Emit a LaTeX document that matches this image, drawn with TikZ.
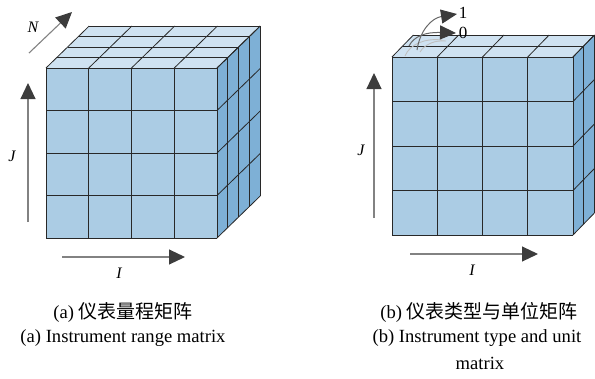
\documentclass[tikz,border=0pt]{standalone}
\usepackage{fontspec}
\setmainfont{Liberation Serif}
\newfontfamily\cjk{Noto Sans CJK SC}
\usetikzlibrary{arrows.meta}
\definecolor{topc}{RGB}{207,226,241}
\definecolor{sidec}{RGB}{126,176,214}
\definecolor{frontc}{RGB}{171,204,228}
\definecolor{gridc}{RGB}{40,40,40}
\definecolor{arrc}{RGB}{130,130,130}
\definecolor{headc}{RGB}{60,60,60}
\tikzset{
  gl/.style={draw=gridc, line width=0.8pt},
  axisarrow/.style={draw=arrc, line width=1.1pt, -{Triangle[length=16pt,width=15pt,fill=headc,color=headc]}},
  curvearrow/.style={draw=arrc!80!black, line width=1pt, -{Triangle[length=16pt,width=14pt,fill=headc,color=headc]}},
  faint/.style={draw=black!25, line width=0.9pt},
  axlabel/.style={font=\fontsize{16}{18}\selectfont\itshape, inner sep=0pt},
  numlabel/.style={font=\fontsize{17}{19}\selectfont, inner sep=0pt},
  captext/.style={font=\fontsize{18.6}{22}\selectfont, inner sep=0pt, align=center},
}
\newcommand\mycube[7]{%
\begin{scope}[shift={(#1,#2)}]
\def\W{#3}\def\H{#4}\def\DX{#5}\def\DY{#6}\def\N{#7}
\fill[topc] (0,0) -- (4*\W,0) -- (4*\W+\N*\DX,\N*\DY) -- (\N*\DX,\N*\DY) -- cycle;
\fill[sidec] (4*\W,0) -- (4*\W,4*\H) -- (4*\W+\N*\DX,4*\H+\N*\DY) -- (4*\W+\N*\DX,\N*\DY) -- cycle;
\fill[frontc] (0,0) rectangle (4*\W,4*\H);
\foreach \k in {0,...,\N} {
  \draw[gl] (\k*\DX,\k*\DY) -- (4*\W+\k*\DX,\k*\DY);
  \draw[gl] (4*\W+\k*\DX,\k*\DY) -- (4*\W+\k*\DX,4*\H+\k*\DY);
}
\foreach \i in {0,...,4} {
  \draw[gl] (\i*\W,0) -- (\i*\W+\N*\DX,\N*\DY);
  \draw[gl] (4*\W,\i*\H) -- (4*\W+\N*\DX,\i*\H+\N*\DY);
  \draw[gl] (\i*\W,0) -- (\i*\W,4*\H);
  \draw[gl] (0,\i*\H) -- (4*\W,\i*\H);
}
\end{scope}}
\begin{document}
\begin{tikzpicture}[x=1pt,y=-1pt]
\useasboundingbox (0,0) rectangle (595,378);
% cubes
\mycube{46}{68}{42.75}{42.5}{10.8}{-10.5}{4}
\mycube{392}{57}{45.25}{44.5}{10.7}{-11}{2}
% left axes
\coordinate (nS) at (29,53); \coordinate (nE) at (72,12);
\coordinate (jS) at (28,222); \coordinate (jE) at (28,83);
\coordinate (iS) at (62,257); \coordinate (iE) at (185,257);
\draw[axisarrow] (nS) -- (nE);
\draw[axisarrow] (jS) -- (jE);
\draw[axisarrow] (iS) -- (iE);
\node[axlabel] (lN) at (33,27) {N};
\node[axlabel] (lJ) at (12,156) {J};
\node[axlabel] (lI) at (119,273) {I};
% right axes
\coordinate (rjS) at (374,218); \coordinate (rjE) at (374,73);
\coordinate (riS) at (410,254); \coordinate (riE) at (538,254);
\draw[axisarrow] (rjS) -- (rjE);
\draw[axisarrow] (riS) -- (riE);
\node[axlabel] (rJ) at (361,150) {J};
\node[axlabel] (rI) at (472,270) {I};
% curved arrows
\coordinate (c1S) at (417,50); \coordinate (c1E) at (457,14);
\coordinate (c0S) at (409,46); \coordinate (c0E) at (456,33);
\draw[faint] (405,56) .. controls (410,44) and (425,38) .. (442,40);
\draw[faint] (420,52) .. controls (425,44) and (435,40) .. (446,41);
\draw[curvearrow] (c1S) .. controls (420,30) and (432,18) .. (c1E);
\draw[curvearrow] (c0S) .. controls (414,36) and (426,32) .. (c0E);
\node[numlabel] (n1) at (463,13) {1};
\node[numlabel] (n0) at (463,33) {0};
% captions
\node[captext] (ca1) at (123,312) {(a) {\cjk\fontsize{19}{22}\selectfont 仪表量程矩阵}};
\node[captext] (ca2) at (123,338) {(a) Instrument range matrix};
\node[captext] (cb1) at (479,312) {(b) {\cjk\fontsize{19}{22}\selectfont 仪表类型与单位矩阵}};
\node[captext] (cb2) at (477,338) {(b) Instrument type and unit};
\node[captext] (cb3) at (480,363) {matrix};
\end{tikzpicture}
\end{document}
